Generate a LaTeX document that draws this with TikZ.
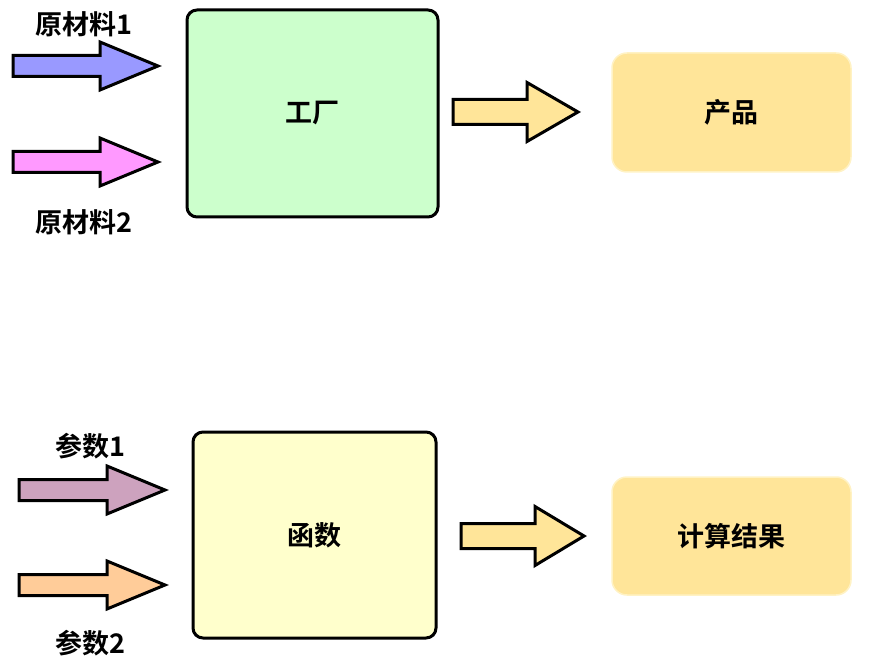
\documentclass[tikz,border=0pt]{standalone}
\usepackage{fontspec}
\setmainfont{Noto Sans CJK SC}[BoldFont={* Bold}]
\definecolor{cA}{HTML}{9999FF}
\definecolor{cB}{HTML}{FF99FF}
\definecolor{cC}{HTML}{FFE599}
\definecolor{cD}{HTML}{CDA2BE}
\definecolor{cE}{HTML}{FFCC99}
\definecolor{cGreen}{HTML}{CCFFCC}
\definecolor{cLY}{HTML}{FFFFCC}
\definecolor{cRes}{HTML}{FFE599}
\definecolor{cResB}{HTML}{FFF2C4}
% \fatarrow{fill}{x0}{xhead}{xtip}{yc}{shaft half}{head half}
\newcommand\fatarrow[7]{%
  \draw[arrowline, fill=#1] (#2,#5-#6) -- (#3,#5-#6) -- (#3,#5-#7) -- (#4,#5)
    -- (#3,#5+#7) -- (#3,#5+#6) -- (#2,#5+#6) -- cycle;}
\begin{document}
\begin{tikzpicture}[x=1pt,y=1pt,
  arrowline/.style={line width=3pt, line join=miter, draw=black},
  mainbox/.style={draw=black, line width=3pt, rounded corners=10pt, inner sep=0pt},
  resbox/.style={draw=cResB, line width=1.5pt, fill=cRes, rounded corners=15pt, inner sep=0pt},
  lbl/.style={font=\fontsize{27}{31}\selectfont\bfseries, inner sep=0pt}]
\useasboundingbox (0,0) rectangle (869,667);
% top row
\node[mainbox, fill=cGreen, minimum width=251pt, minimum height=207pt] (fac) at (312.5,553.5) {};
\node[lbl] (factxt) at (fac.center) {工厂};
\node[resbox, minimum width=239pt, minimum height=119pt] (prod) at (731.5,554.5) {};
\node[lbl] (prodtxt) at (prod.center) {产品};
\node[lbl] (m1) at (84,643) {原材料1};
\node[lbl] (m2) at (84,445) {原材料2};
\fatarrow{cA}{13}{100}{158}{601}{10.5}{24}
\fatarrow{cB}{13}{100}{158}{505}{10.5}{24}
\fatarrow{cC}{453}{527}{578}{555}{12.5}{29.5}
% bottom row
\node[mainbox, fill=cLY, minimum width=243pt, minimum height=206pt] (fun) at (314.5,132) {};
\node[lbl] (funtxt) at (fun.center) {函数};
\node[resbox, minimum width=239pt, minimum height=118pt] (res) at (731.5,131) {};
\node[lbl] (restxt) at (res.center) {计算结果};
\node[lbl] (p1) at (90,221) {参数1};
\node[lbl] (p2) at (90,24) {参数2};
\fatarrow{cD}{19}{107}{165}{177}{10.5}{24}
\fatarrow{cE}{19}{107}{165}{82}{10.5}{24}
\fatarrow{cC}{461}{535}{584}{131}{12.5}{29.5}
\end{tikzpicture}
\end{document}
